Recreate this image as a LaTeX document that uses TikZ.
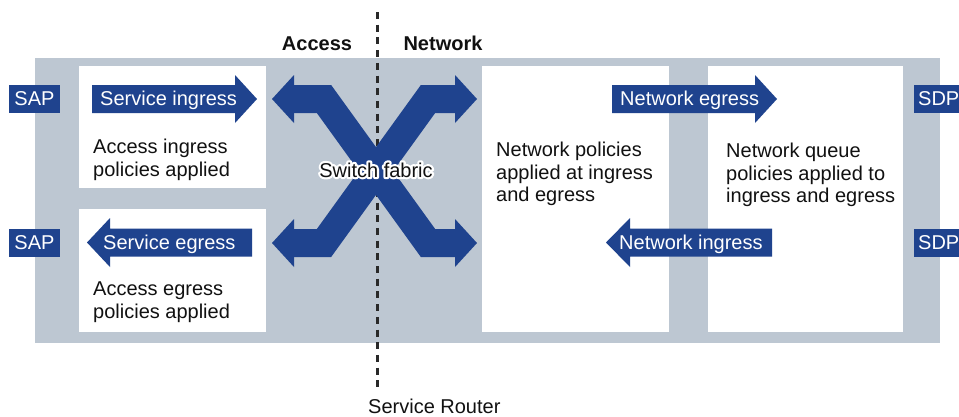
\documentclass[tikz,border=0pt]{standalone}
\usepackage{fontspec}
\setmainfont{Liberation Sans}
\definecolor{blu}{HTML}{1F438E}
\definecolor{gry}{HTML}{BDC7D2}
\definecolor{ink}{HTML}{111111}
\newcommand\halolabel[1]{\special{pdf:literal direct 1 j 1 J}\rlap{\textcolor{white}{\addfontfeature{FakeBold=22}#1}}\special{pdf:literal direct 0 j 0 J}#1}
\begin{document}
\begin{tikzpicture}[x=1pt,y=-1pt,
  txt/.style={font=\fontsize{20}{22.5}\selectfont, inner sep=0pt, text=ink},
  wtxt/.style={txt, text=white},
  btxt/.style={txt, font=\fontsize{20}{22.5}\selectfont\bfseries},
  wbox/.style={fill=white, draw=none, inner sep=0pt},
  tag/.style={fill=blu, draw=none, inner sep=0pt, minimum height=28pt},
  fab/.style={draw=blu, line width=28pt, line join=miter, line cap=butt},
  bluearrow/.style={fill=blu, draw=none},
  divider/.style={draw=ink!90, line width=3pt, dash pattern=on 7pt off 5.7pt}
]
\useasboundingbox (0,0) rectangle (959,416);
% background
\node[fill=gry, inner sep=0pt, minimum width=905pt, minimum height=285pt] (bg) at (487.5,200.5) {};
% white boxes
\node[wbox, minimum width=187pt, minimum height=122pt] (accin) at (172.5,127) {};
\node[wbox, minimum width=187pt, minimum height=123pt] (accout) at (172.5,270.5) {};
\node[wbox, minimum width=187pt, minimum height=266pt] (netpol) at (575.5,199) {};
\node[wbox, minimum width=195pt, minimum height=266pt] (netq) at (805.5,199) {};
% divider
\coordinate (dtop) at (377,12);
\coordinate (dbot) at (377,389);
\draw[divider] (dtop) -- (dbot);
% switch fabric X
\draw[fab] (293,99) -- (324,99) -- (428,243) -- (456,243);
\draw[fab] (293,243) -- (324,243) -- (428,99) -- (456,99);
\fill[blu] (272,99) -- (294,75) -- (294,123) -- cycle;
\fill[blu] (272,243) -- (294,219) -- (294,267) -- cycle;
\fill[blu] (477,99) -- (455,75) -- (455,123) -- cycle;
\fill[blu] (477,243) -- (455,219) -- (455,267) -- cycle;
% straight arrows
\fill[bluearrow] (92,85) -- (235,85) -- (235,75) -- (257,99) -- (235,123) -- (235,113) -- (92,113) -- cycle;
\fill[bluearrow] (252,228.5) -- (110,228.5) -- (110,218) -- (87,242.5) -- (110,267) -- (110,256.5) -- (252,256.5) -- cycle;
\fill[bluearrow] (612,85) -- (755,85) -- (755,75) -- (777,99) -- (755,123) -- (755,113) -- (612,113) -- cycle;
\fill[bluearrow] (772,228.5) -- (630,228.5) -- (630,218) -- (606,242.5) -- (630,267) -- (630,256.5) -- (772,256.5) -- cycle;
% SAP / SDP tags
\node[tag, minimum width=51pt] (sap1) at (34.5,99) {};
\node[tag, minimum width=51pt] (sap2) at (34.5,242.5) {};
\node[tag, minimum width=51pt] (sdp1) at (939.5,99) {};
\node[tag, minimum width=51pt] (sdp2) at (939.5,242.5) {};
\node[wtxt, anchor=base] (sapt1) at (34.5,105) {SAP};
\node[wtxt, anchor=base] (sapt2) at (34.5,249) {SAP};
\node[wtxt, anchor=base west] (sdpt1) at (918,105) {SDP};
\node[wtxt, anchor=base west] (sdpt2) at (918,249) {SDP};
% arrow labels
\node[wtxt, anchor=base west] (sin) at (100,105) {Service ingress};
\node[wtxt, anchor=base west] (seg) at (103,249) {Service egress};
\node[wtxt, anchor=base west] (neg) at (620,105) {Network egress};
\node[wtxt, anchor=base west] (nin) at (619,249) {Network ingress};
% box texts
\node[txt, anchor=north west, align=left] (t1) at (93,139) {Access ingress\\policies applied};
\node[txt, anchor=north west, align=left] (t2) at (93,282) {Access egress\\policies applied};
\node[txt, anchor=north west, align=left] (t3) at (496,142) {Network policies\\applied at ingress\\and egress};
\node[txt, anchor=north west, align=left] (t4) at (726,143) {Network queue\\policies applied to\\ingress and egress};
% headings
\node[btxt, anchor=base] (acc) at (317,50) {Access};
\node[btxt, anchor=base] (net) at (443,50) {Network};
\node[txt, anchor=base west] (sr) at (368,413) {Service Router};
% switch fabric label with white halo
\node[txt, anchor=base] (sf) at (376,177) {\halolabel{Switch fabric}};
\end{tikzpicture}
\end{document}
